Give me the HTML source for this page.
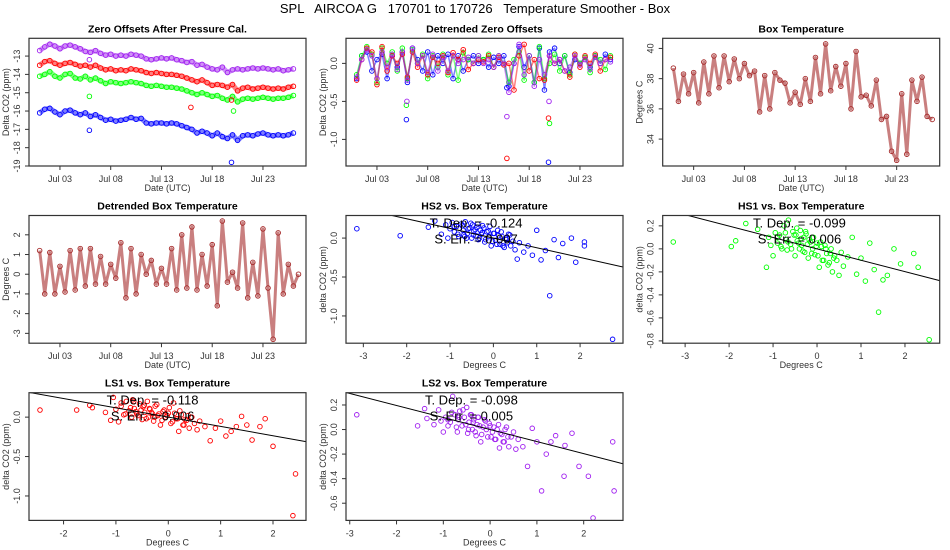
<!DOCTYPE html>
<html><head><meta charset="utf-8">
<style>
html,body{margin:0;padding:0;background:#fff;}
svg{display:block;font-family:"Liberation Sans",Arial,sans-serif;}
</style></head>
<body>
<svg id="chart" width="950" height="550" viewBox="0 0 950 550" xmlns="http://www.w3.org/2000/svg">
<text x="475" y="13" text-anchor="middle" font-size="13" xml:space="preserve" fill="#000">SPL   AIRCOA G   170701 to 170726   Temperature Smoother - Box</text>
</svg>
<script>
// ---- Panel 1: zero offsets (half-day samples from Jul 01) ----
const zoPurple=[-12.7,-12.5,-12.35,-12.45,-12.6,-12.45,-12.4,-12.5,-12.6,-12.75,-12.8,-12.7,-12.85,-12.95,-12.9,-13.0,-12.95,-13.0,-12.9,-12.95,-13.0,-13.15,-13.2,-13.15,-13.1,-13.15,-13.1,-13.2,-13.25,-13.35,-13.3,-13.5,-13.45,-13.6,-13.7,-13.75,-13.6,-13.9,-13.75,-13.7,-13.75,-13.7,-13.65,-13.7,-13.65,-13.7,-13.75,-13.7,-13.8,-13.75,-13.7];
const zoRed=[-13.5,-13.3,-13.25,-13.4,-13.5,-13.4,-13.35,-13.45,-13.55,-13.5,-13.6,-13.5,-13.65,-13.75,-13.7,-13.8,-13.75,-13.8,-13.7,-13.75,-13.8,-13.9,-13.95,-13.9,-13.95,-14.0,-14.0,-14.05,-14.1,-14.2,-14.3,-14.4,-14.3,-14.45,-14.6,-14.55,-14.6,-14.7,-14.55,-14.9,-14.75,-14.7,-14.8,-14.75,-14.7,-14.75,-14.8,-14.75,-14.8,-14.7,-14.65];
const zoGreen=[-14.1,-14.0,-13.85,-14.1,-14.2,-14.0,-13.95,-14.2,-14.25,-14.1,-14.3,-14.2,-14.35,-14.5,-14.4,-14.45,-14.5,-14.45,-14.4,-14.45,-14.5,-14.6,-14.65,-14.6,-14.65,-14.7,-14.7,-14.75,-14.8,-14.9,-15.0,-15.1,-15.0,-15.1,-15.2,-15.15,-15.3,-15.4,-15.2,-15.5,-15.35,-15.3,-15.35,-15.3,-15.25,-15.3,-15.35,-15.3,-15.3,-15.25,-15.15];
const zoBlue=[-16.1,-15.9,-15.85,-16.05,-16.2,-16.0,-15.95,-16.1,-16.2,-16.1,-16.3,-16.2,-16.35,-16.5,-16.45,-16.55,-16.5,-16.45,-16.35,-16.45,-16.4,-16.65,-16.7,-16.65,-16.65,-16.7,-16.65,-16.7,-16.8,-16.9,-17.0,-17.2,-17.1,-17.2,-17.35,-17.2,-17.4,-17.5,-17.3,-17.6,-17.35,-17.3,-17.35,-17.25,-17.2,-17.3,-17.35,-17.3,-17.35,-17.3,-17.2];
const zoOutDay=[4.9,18.9,4.9,19.1,14.9,18.9,4.9];
const zoOutVal=[-17.05,-18.8,-15.2,-16.0,-15.8,-15.4,-13.2];
const zoOutCol=["blue","blue","green","green","red","red","purple"];
// ---- Panel 2: detrended zero offsets ----
const dzBlue=[-0.2,0.1,0.15,-0.1,0.05,0.12,-0.2,0.1,-0.05,0.15,-0.25,0.2,0.05,-0.1,0.15,-0.15,0.1,0.0,0.12,-0.2,0.1,-0.1,0.05,0.1,0.0,0.05,-0.05,0.08,0.0,0.1,-0.3,0.0,0.22,-0.05,0.1,-0.25,0.2,-0.35,0.15,0.2,0.0,0.1,-0.12,0.05,0.0,0.08,-0.05,0.1,0.0,0.12,0.05];
const dzRed=[-0.22,0.05,0.2,0.15,-0.28,0.22,-0.1,0.1,0.0,0.12,-0.18,0.15,-0.05,0.1,-0.15,0.08,0.0,0.1,-0.12,0.14,0.05,0.18,-0.08,0.0,0.05,0.02,0.1,-0.05,0.08,-0.02,0.0,-0.35,0.1,0.25,-0.1,0.05,-0.2,-0.22,0.1,0.0,0.05,-0.1,-0.18,0.12,-0.05,0.1,0.0,0.12,-0.1,0.05,0.08];
const dzGreen=[-0.15,0.1,0.22,0.12,-0.25,0.2,0.0,0.15,-0.1,0.2,-0.2,0.18,0.0,0.12,-0.2,0.1,-0.05,0.12,-0.15,0.1,-0.22,0.14,0.05,0.0,0.1,0.05,0.12,-0.05,0.1,0.0,-0.25,0.05,0.15,-0.22,0.1,-0.25,0.22,-0.2,0.0,0.12,-0.1,0.1,-0.15,0.12,0.0,0.08,-0.12,0.1,0.05,-0.08,0.1];
const dzPurple=[-0.18,0.05,0.18,0.1,-0.2,0.15,-0.05,0.12,-0.08,0.15,-0.22,0.2,0.0,0.1,-0.12,0.12,-0.1,0.08,-0.1,0.1,0.0,0.05,0.08,0.0,0.1,0.0,0.05,-0.05,0.1,0.0,-0.38,0.0,0.25,-0.15,0.1,-0.3,0.05,-0.15,0.1,0.0,0.05,-0.1,-0.05,0.1,-0.02,0.05,-0.08,0.08,0.0,0.05,0.02];
const dzOutDay=[4.9,18.9,14.8,4.9,19.0,14.8,18.9,4.95,14.8,18.95];
const dzOutVal=[-0.74,-1.3,-0.32,-0.55,-0.79,-1.25,-0.72,-0.5,-0.7,-0.5];
const dzOutCol=["blue","blue","blue","green","green","red","red","purple","purple","purple"];
// ---- Panel 3/4: box temperature (half-day samples) ----
const boxTemp=[38.7,36.5,38.3,37.0,38.4,36.4,39.1,37.0,39.5,37.4,39.5,37.8,39.3,38.0,39.0,38.2,38.5,35.8,38.2,36.0,38.4,37.9,37.7,36.4,37.1,36.3,38.0,36.5,39.4,37.0,40.3,37.2,38.8,37.5,39.0,36.0,39.8,36.8,36.9,36.2,37.9,35.3,35.5,33.2,32.6,37.0,33.0,37.9,36.5,38.1,35.5,35.3];
const boxDetr=[1.2,-1.0,1.1,-1.0,0.4,-0.9,1.2,-0.8,1.3,-0.6,1.3,-0.5,0.9,-0.5,0.5,-0.2,1.6,-1.2,1.3,-1.0,1.0,0.0,0.7,-0.5,0.3,-0.5,1.3,-0.8,2.0,-0.7,2.4,-0.8,1.0,-0.6,1.5,-1.6,2.7,-0.4,0.1,-0.7,2.6,-1.2,0.6,-1.1,2.3,-0.7,-3.3,2.1,-1.0,0.5,-0.6,0.0];
// ---- Scatter panels ----
const hs2X=[-3.15,-2.15,-1.5,-1.35,-1.2,-1.1,-1.05,-1.0,-0.95,-0.9,-0.85,-0.8,-0.75,-0.7,-0.68,-0.65,-0.6,-0.55,-0.5,-0.48,-0.45,-0.4,-0.38,-0.35,-0.3,-0.28,-0.25,-0.2,-0.15,-0.1,-0.05,0.0,0.05,0.1,0.15,0.2,0.25,0.3,0.35,0.4,0.45,0.5,0.55,0.6,0.7,0.8,0.9,1.0,1.1,1.2,1.3,1.4,1.5,1.6,1.8,1.9,2.1,2.1,2.75,-0.62,
 -0.9,-0.82,-0.72,-0.66,-0.58,-0.52,-0.46,-0.42,-0.36,-0.32,-0.26,-0.22,-0.18,-0.12,-0.08,-0.02,0.02,0.08,0.12,0.18,0.22,0.28,0.32,0.38];
const hs2Y=[0.12,0.03,0.14,0.22,0.05,0.17,0.0,0.12,0.2,0.08,0.15,0.02,0.18,0.1,0.04,0.21,0.06,0.13,0.0,0.17,0.09,0.03,0.14,-0.02,0.1,0.05,0.16,-0.05,0.08,0.02,-0.1,0.06,-0.03,0.1,-0.08,0.02,-0.12,-0.02,0.05,-0.1,-0.04,-0.15,-0.27,-0.06,-0.18,-0.1,-0.22,0.1,-0.28,-0.16,-0.74,-0.02,-0.25,-0.07,0.0,-0.31,-0.05,-0.1,-1.3,0.0,
 0.15,0.05,0.16,0.02,0.12,0.19,0.04,0.11,0.18,0.0,0.07,0.13,-0.02,0.09,0.15,-0.04,0.06,-0.08,0.03,0.08,-0.1,0.0,-0.06,0.04];
const hs1X=[-3.27,-1.95,-1.85,-1.35,-1.15,-1.1,-1.05,-1.0,-0.95,-0.9,-0.85,-0.8,-0.75,-0.7,-0.68,-0.65,-0.6,-0.55,-0.5,-0.48,-0.45,-0.4,-0.38,-0.35,-0.3,-0.28,-0.25,-0.2,-0.15,-0.1,-0.05,0.0,0.05,0.1,0.15,0.2,0.25,0.3,0.35,0.4,0.45,0.5,0.55,0.6,0.7,0.8,0.9,1.0,1.1,1.2,1.3,1.4,1.5,1.6,1.75,1.9,2.2,2.3,2.55,-1.62,
 -0.9,-0.82,-0.72,-0.66,-0.58,-0.52,-0.46,-0.42,-0.36,-0.32,-0.26,-0.22,-0.18,-0.12,-0.08,-0.02,0.02,0.08,0.12,0.18,0.22,0.28,0.32,0.38];
const hs1Y=[0.06,0.02,0.07,0.17,-0.16,0.1,0.03,-0.06,0.14,0.05,0.12,0.0,0.2,0.08,-0.01,0.25,0.04,0.15,-0.06,0.12,0.07,0.0,0.16,0.03,0.1,-0.03,0.13,-0.08,0.06,0.0,-0.05,0.05,-0.16,0.02,-0.1,0.0,-0.14,-0.04,-0.2,-0.06,-0.1,-0.23,-0.03,-0.15,-0.07,0.1,-0.22,-0.08,-0.28,0.05,-0.18,-0.55,-0.27,-0.23,0.0,-0.13,-0.04,-0.16,-0.79,0.22,
 0.1,0.02,0.14,0.06,0.0,0.12,0.18,0.05,0.09,-0.02,0.15,0.04,0.08,-0.04,0.1,0.02,-0.06,0.06,-0.1,0.03,-0.04,-0.12,0.0,-0.08];
const ls1X=[-2.45,-1.75,-1.5,-1.45,-1.2,-1.1,-1.05,-1.0,-0.95,-0.9,-0.85,-0.8,-0.75,-0.7,-0.68,-0.65,-0.6,-0.55,-0.5,-0.48,-0.45,-0.4,-0.38,-0.35,-0.3,-0.28,-0.25,-0.2,-0.15,-0.1,-0.05,0.0,0.05,0.1,0.15,0.2,0.25,0.3,0.35,0.4,0.45,0.5,0.55,0.6,0.7,0.8,0.9,1.0,1.1,1.2,1.3,1.4,1.5,1.6,1.75,1.85,2.0,2.43,2.38,-0.62,
 -0.9,-0.82,-0.72,-0.66,-0.58,-0.52,-0.46,-0.42,-0.36,-0.32,-0.26,-0.22,-0.18,-0.12,-0.08,-0.02,0.02,0.08,0.12,0.18,0.22,0.28,0.32,0.38];
const ls1Y=[0.09,0.09,0.15,0.12,0.06,-0.04,0.25,0.1,-0.06,0.14,0.03,0.2,0.08,0.0,0.22,0.11,0.04,0.17,-0.03,0.13,0.06,0.2,0.0,0.1,0.04,-0.05,0.14,0.02,-0.1,0.07,0.0,0.05,-0.08,0.18,-0.02,-0.18,0.03,-0.1,-0.04,-0.14,0.0,-0.08,-0.16,-0.05,-0.12,-0.3,-0.14,-0.05,-0.24,-0.18,-0.12,0.01,-0.1,-0.29,-0.12,-0.02,-0.37,-0.72,-1.25,0.07,
 0.18,0.04,0.12,0.2,0.02,0.09,0.15,-0.02,0.11,0.06,0.0,0.16,0.04,-0.04,0.09,0.02,0.12,-0.06,0.05,-0.02,0.08,-0.1,-0.03,0.02];
const ls2X=[-2.85,-1.55,-1.4,-1.35,-1.2,-1.1,-1.05,-1.0,-0.95,-0.9,-0.85,-0.8,-0.75,-0.7,-0.68,-0.65,-0.6,-0.55,-0.5,-0.48,-0.45,-0.4,-0.38,-0.35,-0.3,-0.28,-0.25,-0.2,-0.15,-0.1,-0.05,0.0,0.05,0.1,0.15,0.2,0.25,0.3,0.35,0.4,0.45,0.5,0.55,0.6,0.7,0.8,0.9,1.0,1.1,1.2,1.3,1.4,1.58,1.6,1.75,1.9,2.1,2.2,2.65,2.62,
 -0.9,-0.82,-0.72,-0.66,-0.58,-0.52,-0.46,-0.42,-0.36,-0.32,-0.26,-0.22,-0.18,-0.12,-0.08,-0.02,0.02,0.08,0.12,0.18,0.22,0.28,0.32,0.38];
const ls2Y=[0.12,0.03,0.17,0.09,0.04,0.16,0.07,-0.02,0.1,0.03,0.06,0.27,0.12,-0.02,0.08,0.15,0.03,0.1,0.18,-0.03,0.06,0.12,0.0,0.08,-0.05,0.04,0.1,-0.1,0.02,0.07,-0.06,0.03,-0.02,-0.08,0.0,-0.15,-0.04,-0.1,0.02,-0.14,-0.06,-0.02,-0.16,-0.08,-0.14,-0.3,0.01,-0.1,-0.5,-0.2,-0.1,-0.05,-0.38,-0.13,-0.03,-0.3,-0.38,-0.72,-0.5,-0.1,
 0.08,0.14,0.02,0.1,0.16,0.04,0.0,0.12,0.06,-0.02,0.1,0.03,-0.04,0.08,0.0,0.05,-0.06,0.02,-0.08,0.04,-0.03,-0.1,0.0,-0.06];
const slopes=[-0.124,-0.099,-0.118,-0.098];
const slopeLabels=["T. Dep. =  -0.124","T. Dep. =  -0.099","T. Dep. =  -0.118","T. Dep. =  -0.098"];
const errLabels=["S. Err. =  0.007","S. Err. =  0.006","S. Err. =  0.006","S. Err. =  0.005"];
const dateTicks=["Jul 03","Jul 08","Jul 13","Jul 18","Jul 23"];
const dateTickDays=[2,7,12,17,22];

const NS="http://www.w3.org/2000/svg";
const svg=document.getElementById('chart');
const COL={blue:"#0000FF",red:"#FF0000",green:"#00FF00",purple:"#A020F0",brown:"#A52A2A"};
function mk(tag,attrs,parent){const e=document.createElementNS(NS,tag);for(const k in attrs)e.setAttribute(k,attrs[k]);(parent||svg).appendChild(e);return e;}
let clipN=0;
function panel(o){
  const g=mk('g',{});
  
  
  const L=o.left,T=o.top,W=277,H=127.7,R=L+W,B=T+H;
  const sx=v=>L+(v-o.x0)/(o.x1-o.x0)*W;
  const sy=v=>T+(o.y1-v)/(o.y1-o.y0)*H;
  const id='clip'+(clipN++);
  const cp=mk('clipPath',{id:id},g);mk('rect',{x:L,y:T,width:W,height:H},cp);
  const t=mk('text',{x:L+W/2,y:T-6,'text-anchor':'middle','font-size':'10.5','font-weight':'bold',fill:'#000'},g);
  t.textContent=o.title;
  
  
  const plot=mk('g',{'clip-path':'url(#'+id+')'},g);
  o.xt.forEach((v,i)=>{const x=sx(v);
    const tk=mk('line',{x1:x,x2:x,y1:B,y2:B+4,stroke:'#333','stroke-width':1},g);
    
    
    const tl=mk('text',{x:x,y:B+16,'text-anchor':'middle','font-size':'9',fill:'#333'},g);tl.textContent=o.xl[i];
    
    });
  o.yt.forEach((v,i)=>{const y=sy(v);
    const tk=mk('line',{x1:L-4,x2:L,y1:y,y2:y,stroke:'#333','stroke-width':1},g);
    
    
    const tl=mk('text',{x:L-9,y:y,'text-anchor':'middle','font-size':'9',fill:'#333',transform:'rotate(-90 '+(L-9)+' '+y+')'},g);tl.textContent=o.yl[i];
    
    });
  const xt=mk('text',{x:L+W/2,y:B+25,'text-anchor':'middle','font-size':'9',fill:'#333'},g);xt.textContent=o.xlab;
  
  
  const yx=L-20,yy=T+H/2;
  const yt=mk('text',{x:yx,y:yy,'text-anchor':'middle','font-size':'9',fill:'#333',transform:'rotate(-90 '+yx+' '+yy+')'},g);yt.textContent=o.ylab;
  
  
  return {g,plot,sx,sy,L,T,W,H,R,B};
}
function frame(p){const r=mk('rect',{x:p.L,y:p.T,width:p.W,height:p.H,fill:'none',stroke:'#333','stroke-width':1.2},p.g);
  
  }
function circ(p,x,y,c){const e=mk('circle',{cx:x,cy:y,r:2.3,fill:'none',stroke:c,'stroke-width':0.9},p.plot);
  
  }
function series(p,vals,c,band,op){
  const pts=vals.map((v,i)=>p.sx(i*0.5)+','+p.sy(v)).join(' ');
  const pl=mk('polyline',{points:pts,fill:'none',stroke:c,'stroke-width':band,'stroke-opacity':op,'stroke-linejoin':'round'},p.plot);
  
  
  vals.forEach((v,i)=>circ(p,p.sx(i*0.5),p.sy(v),c));
}
const dayDom=[-1.05,26.24];
let p=panel({name:'zero-offsets-panel',title:'Zero Offsets After Pressure Cal.',left:29,top:38.3,x0:dayDom[0],x1:dayDom[1],y0:-19.0,y1:-12.03,xt:dateTickDays,xl:dateTicks,yt:[-13,-14,-15,-16,-17,-18,-19],yl:['-13','-14','-15','-16','-17','-18','-19'],xlab:'Date (UTC)',ylab:'Delta CO2 (ppm)'});
series(p,zoPurple,COL.purple,5,0.5);series(p,zoRed,COL.red,5,0.5);series(p,zoGreen,COL.green,5,0.5);series(p,zoBlue,COL.blue,5,0.5);
zoOutDay.forEach((d,i)=>circ(p,p.sx(d),p.sy(zoOutVal[i]),COL[zoOutCol[i]]));
frame(p);
p=panel({name:'detrended-zero-offsets-panel',title:'Detrended Zero Offsets',left:346,top:38.3,x0:dayDom[0],x1:dayDom[1],y0:-1.35,y1:0.33,xt:dateTickDays,xl:dateTicks,yt:[0,-0.5,-1.0],yl:['0.0','-0.5','-1.0'],xlab:'Date (UTC)',ylab:'Delta CO2 (ppm)'});
series(p,dzBlue,COL.blue,1.5,0.5);series(p,dzGreen,COL.green,1.5,0.5);series(p,dzRed,COL.red,1.5,0.5);series(p,dzPurple,COL.purple,1.5,0.5);
dzOutDay.forEach((d,i)=>circ(p,p.sx(d),p.sy(dzOutVal[i]),COL[dzOutCol[i]]));
frame(p);
p=panel({name:'box-temperature-panel',title:'Box Temperature',left:662.7,top:38.3,x0:dayDom[0],x1:dayDom[1],y0:32.22,y1:40.67,xt:dateTickDays,xl:dateTicks,yt:[40,38,36,34],yl:['40','38','36','34'],xlab:'Date (UTC)',ylab:'Degrees C'});
series(p,boxTemp,COL.brown,3,0.6);frame(p);
p=panel({name:'detrended-box-temperature-panel',title:'Detrended Box Temperature',left:29,top:215.5,x0:dayDom[0],x1:dayDom[1],y0:-3.5,y1:2.98,xt:dateTickDays,xl:dateTicks,yt:[2,1,0,-1,-2,-3],yl:['2','1','0','-1','-2','-3'],xlab:'Date (UTC)',ylab:'Degrees C'});
series(p,boxDetr,COL.brown,3,0.6);frame(p);
function scatter(cfg,xs,ys,c,k){
  const q=panel(cfg);
  xs.forEach((x,i)=>circ(q,q.sx(x),q.sy(ys[i]),c));
  const ln=mk('line',{x1:q.sx(cfg.x0),y1:q.sy(slopes[k]*cfg.x0),x2:q.sx(cfg.x1),y2:q.sy(slopes[k]*cfg.x1),stroke:'#000','stroke-width':1},q.plot);
  
  
  const cx=q.sx(cfg.tx);
  const t1=mk('text',{x:cx,y:q.T+12,'text-anchor':'middle','font-size':'13',fill:'#000','xml:space':'preserve'},q.g);t1.textContent=slopeLabels[k];
  
  
  const t2=mk('text',{x:cx,y:q.T+28,'text-anchor':'middle','font-size':'13',fill:'#000','xml:space':'preserve'},q.g);t2.textContent=errLabels[k];
  
  
  frame(q);
}
scatter({name:'hs2-scatter-panel',title:'HS2 vs. Box Temperature',left:346,top:215.5,x0:-3.4,x1:2.99,y0:-1.35,y1:0.29,xt:[-3,-2,-1,0,1,2],xl:['-3','-2','-1','0','1','2'],yt:[0,-0.5,-1.0],yl:['0.0','-0.5','-1.0'],xlab:'Degrees C',ylab:'delta CO2 (ppm)',tx:-0.4},hs2X,hs2Y,COL.blue,0);
scatter({name:'hs1-scatter-panel',title:'HS1 vs. Box Temperature',left:662.7,top:215.5,x0:-3.51,x1:2.79,y0:-0.82,y1:0.29,xt:[-3,-2,-1,0,1,2],xl:['-3','-2','-1','0','1','2'],yt:[0.2,0,-0.2,-0.4,-0.6,-0.8],yl:['0.2','0.0','-0.2','-0.4','-0.6','-0.8'],xlab:'Degrees C',ylab:'delta CO2 (ppm)',tx:-0.4},hs1X,hs1Y,COL.green,1);
scatter({name:'ls1-scatter-panel',title:'LS1 vs. Box Temperature',left:29,top:392.7,x0:-2.66,x1:2.63,y0:-1.31,y1:0.31,xt:[-2,-1,0,1,2],xl:['-2','-1','0','1','2'],yt:[0,-0.5,-1.0],yl:['0.0','-0.5','-1.0'],xlab:'Degrees C',ylab:'delta CO2 (ppm)',tx:-0.3},ls1X,ls1Y,COL.red,2);
scatter({name:'ls2-scatter-panel',title:'LS2 vs. Box Temperature',left:346,top:392.7,x0:-3.08,x1:2.84,y0:-0.74,y1:0.30,xt:[-3,-2,-1,0,1,2],xl:['-3','-2','-1','0','1','2'],yt:[0.2,0,-0.2,-0.4,-0.6],yl:['0.2','0.0','-0.2','-0.4','-0.6'],xlab:'Degrees C',ylab:'delta CO2 (ppm)',tx:-0.4},ls2X,ls2Y,COL.purple,3);
</script>
</body></html>
